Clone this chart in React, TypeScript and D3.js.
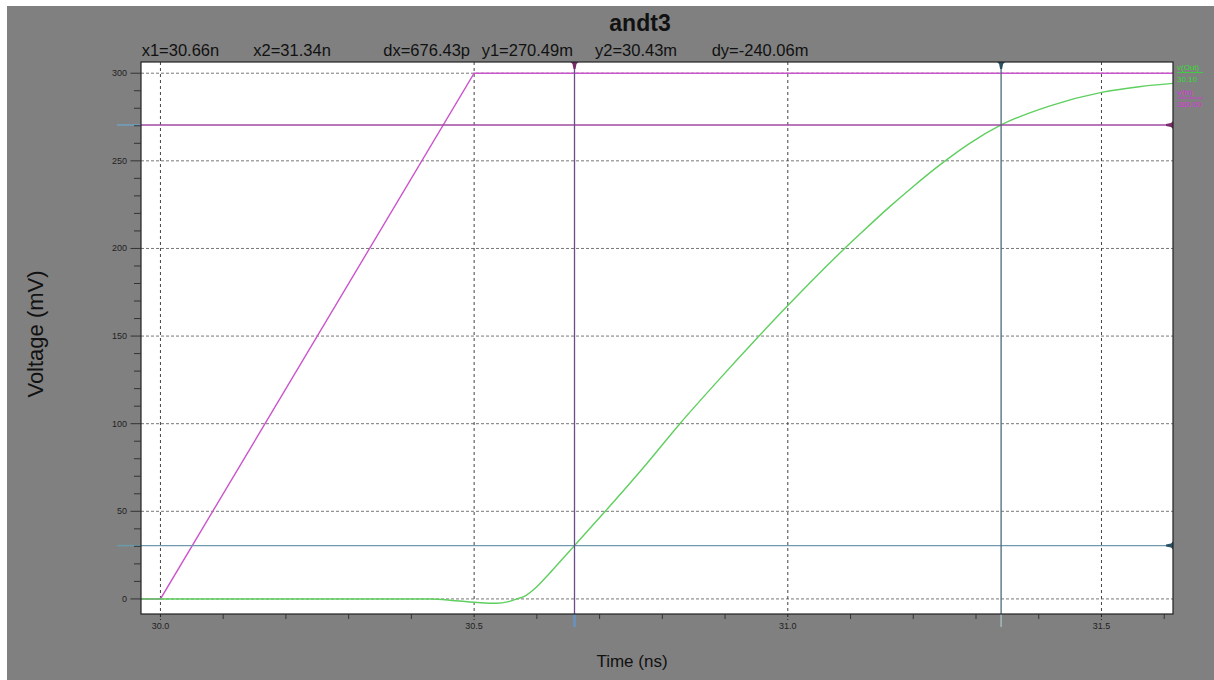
import React from "react";
import * as d3 from "d3";

// ---- data ----
const chartTitle = "andt3";
const xAxisLabel = "Time (ns)";
const yAxisLabel = "Voltage (mV)";

const inTime = [29.969, 30.0, 30.5, 31.614];
const inValue = [0, 0, 300, 300];

const outTime = [29.969, 30.0, 30.43, 30.47, 30.51, 30.536, 30.555, 30.568, 30.58, 30.6, 30.62, 30.64, 30.66, 30.709, 30.77, 30.828, 30.89, 30.953, 31.0, 31.086, 31.115, 31.163, 31.2, 31.245, 31.29, 31.34, 31.418, 31.5, 31.56, 31.614];
const outValue = [0, 0, 0, -1.0, -2.2, -2.5, -1.5, 0, 1.5, 7, 14.5, 22.5, 30.43, 50, 75, 100, 125, 149.6, 167.4, 198.4, 208.2, 224.0, 235.4, 248.4, 260.0, 270.49, 281.4, 289.1, 292.3, 294.2];

const xDomain = [29.969, 31.614];
const yDomain = [-8.6, 306.4];
const xMajorTicks = [30.0, 30.5, 31.0, 31.5];
const xTickLabels = ["30.0", "30.5", "31.0", "31.5"];
const xMinorTicks = [30.1, 30.2, 30.3, 30.4, 30.6, 30.7, 30.8, 30.9, 31.1, 31.2, 31.3, 31.4, 31.6];
const yMajorTicks = [0, 50, 100, 150, 200, 250, 300];
const yMinorTicks = [10, 20, 30, 40, 60, 70, 80, 90, 110, 120, 130, 140, 160, 170, 180, 190, 210, 220, 230, 240, 260, 270, 280, 290];

const cursorX1 = 30.66;
const cursorX2 = 31.34;
const cursorY1 = 270.49;
const cursorY2 = 30.43;

const headerItems = ["x1=30.66n", "x2=31.34n", "dx=676.43p", "y1=270.49m", "y2=30.43m", "dy=-240.06m"];
const legendNames = ["v(Out)", "v(In)"];
const legendValues = ["30.10", "300.00"];

// ---- layout ----
const W = 1214;
const H = 680;
const plot = { left: 141, right: 1173, top: 62, bottom: 614 };
const headerX = [141.7, 253.3, 383.3, 481.7, 595, 711.7];
const FONT = "'Liberation Sans', Arial, Helvetica, sans-serif";

const GREEN = "#5fcf5f";
const MAGENTA = "#cc55cc";

export default function App() {
  const x = d3.scaleLinear().domain(xDomain).range([plot.left, plot.right]);
  const y = d3.scaleLinear().domain(yDomain).range([plot.bottom, plot.top]);

  const line = d3
    .line<[number, number]>()
    .x((d) => x(d[0]))
    .y((d) => y(d[1]))
    .curve(d3.curveMonotoneX);
  const lineLin = d3
    .line<[number, number]>()
    .x((d) => x(d[0]))
    .y((d) => y(d[1]));

  const inPath = lineLin(inTime.map((t, i) => [t, inValue[i]] as [number, number])) || "";
  const outPath = line(outTime.map((t, i) => [t, outValue[i]] as [number, number])) || "";

  const cx1 = x(cursorX1);
  const cx2 = x(cursorX2);
  const cy1 = y(cursorY1);
  const cy2 = y(cursorY2);

  const downMarker = (px: number, py: number) =>
    `M${px - 4},${py} L${px + 4},${py} L${px + 2},${py + 2} L${px + 1},${py + 7} L${px - 1},${py + 7} L${px - 2},${py + 2} Z`;
  const leftMarker = (px: number, py: number) =>
    `M${px},${py - 4} L${px},${py + 4} L${px - 2},${py + 2} L${px - 7},${py + 1} L${px - 7},${py - 1} L${px - 2},${py - 2} Z`;

  return (
    <svg
      width={W}
      height={H}
      style={{ position: "absolute", left: 0, top: 0, display: "block" }}
      fontFamily={FONT}
    >
      <rect x={0} y={0} width={W} height={H} fill="#ffffff" />
      <rect x={7} y={6} width={W - 7} height={H - 6} fill="#808080" />

      {/* title */}
      <text x={640} y={31} textAnchor="middle" fontSize={23} fontWeight="bold" fill="#111">
        {chartTitle}
      </text>
      {headerItems.map((t, i) => (
        <text key={t} x={headerX[i]} y={56} fontSize={16.5} fill="#111">
          {t}
        </text>
      ))}

      {/* plot area */}
      <rect x={plot.left} y={plot.top} width={plot.right - plot.left} height={plot.bottom - plot.top} fill="#ffffff" />

      {/* horizontal grid */}
      {yMajorTicks.map((v) => (
        <line key={"hg" + v} x1={plot.left} x2={plot.right} y1={y(v)} y2={y(v)} stroke="#777" strokeWidth={1} strokeDasharray="3,2" />
      ))}
      {/* vertical grid */}
      {xMajorTicks.map((v) => (
        <line key={"vg" + v} x1={x(v)} x2={x(v)} y1={plot.top} y2={plot.bottom} stroke="#444" strokeWidth={1} strokeDasharray="3,3" />
      ))}

      {/* signals */}
      <path d={inPath} fill="none" stroke={MAGENTA} strokeWidth={1.4} />
      <path d={outPath} fill="none" stroke={GREEN} strokeWidth={1.4} />

      {/* cursors */}
      <line x1={plot.left} x2={plot.right} y1={cy1} y2={cy1} stroke="#a04aa0" strokeWidth={1.5} />
      <line x1={plot.left} x2={plot.right} y1={cy2} y2={cy2} stroke="#6f9aab" strokeWidth={1.3} />
      <line x1={cx1} x2={cx1} y1={plot.top} y2={plot.bottom} stroke="#6a4c8a" strokeWidth={1.3} />
      <line x1={cx2} x2={cx2} y1={plot.top} y2={plot.bottom} stroke="#4d6a78" strokeWidth={1.3} />

      {/* cursor stubs outside plot */}
      <line x1={117} x2={plot.left} y1={cy1} y2={cy1} stroke="#6fa0c0" strokeWidth={1.5} />
      <line x1={117} x2={plot.left} y1={cy2} y2={cy2} stroke="#6a9aa8" strokeWidth={1.5} />
      <line x1={cx1} x2={cx1} y1={plot.bottom} y2={627} stroke="#6a90b8" strokeWidth={3} />
      <line x1={cx2} x2={cx2} y1={plot.bottom} y2={627} stroke="#a8b8c0" strokeWidth={1.5} />

      {/* cursor markers */}
      <path d={downMarker(cx1, plot.top)} fill="#7a2a6a" />
      <path d={downMarker(cx2, plot.top)} fill="#2a5262" />
      <path d={leftMarker(plot.right, cy1)} fill="#7a2a6a" />
      <path d={leftMarker(plot.right, cy2)} fill="#2a5262" />

      {/* frame */}
      <rect x={plot.left} y={plot.top} width={plot.right - plot.left} height={plot.bottom - plot.top} fill="none" stroke="#222" strokeWidth={1.2} />

      {/* y ticks */}
      {yMajorTicks.map((v) => (
        <g key={"yt" + v}>
          <line x1={130.5} x2={plot.left} y1={y(v)} y2={y(v)} stroke="#333" strokeWidth={1} />
          <text x={127} y={y(v) + 3} textAnchor="end" fontSize={9} fill="#222">
            {v}
          </text>
        </g>
      ))}
      {yMinorTicks.map((v) => (
        <line key={"ym" + v} x1={134} x2={plot.left} y1={y(v)} y2={y(v)} stroke="#333" strokeWidth={1} />
      ))}

      {/* x ticks */}
      {xMajorTicks.map((v, i) => (
        <g key={"xt" + v}>
          <line x1={x(v)} x2={x(v)} y1={plot.bottom} y2={620} stroke="#222" strokeWidth={1} strokeDasharray="3,2" />
          <text x={x(v)} y={629} textAnchor="middle" fontSize={9} fill="#222">
            {xTickLabels[i]}
          </text>
        </g>
      ))}
      {xMinorTicks.map((v) => (
        <line key={"xm" + v} x1={x(v)} x2={x(v)} y1={plot.bottom} y2={619} stroke="#333" strokeWidth={1} />
      ))}

      {/* axis labels */}
      <text x={632} y={667} textAnchor="middle" fontSize={17} fill="#111">
        {xAxisLabel}
      </text>
      <text transform="translate(43,334) rotate(-90)" textAnchor="middle" fontSize={22} fill="#111">
        {yAxisLabel}
      </text>

      {/* legend */}
      <text x={1177} y={70} fontSize={8} fill="#33dd33">{legendNames[0]}</text>
      <line x1={1177} x2={1203} y1={72.5} y2={72.5} stroke="#33dd33" strokeWidth={0.8} />
      <text x={1177} y={82} fontSize={8} fill="#33dd33">{legendValues[0]}</text>
      <text x={1177} y={95} fontSize={8} fill="#dd33dd">{legendNames[1]}</text>
      <line x1={1177} x2={1203} y1={98} y2={98} stroke="#dd33dd" strokeWidth={0.8} />
      <text x={1177} y={107} fontSize={8} fill="#dd33dd">{legendValues[1]}</text>
    </svg>
  );
}
